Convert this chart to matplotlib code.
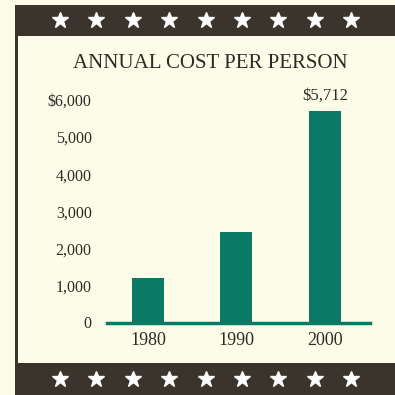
import matplotlib.pyplot as plt
from matplotlib.patches import Rectangle
import numpy as np

years = ["1980", "1990", "2000"]
cost = [1200, 2450, 5712]
y_ticks = [0, 1000, 2000, 3000, 4000, 5000, 6000]
y_labels = ["0", "1,000", "2,000", "3,000", "4,000", "5,000", "$6,000"]
title = "ANNUAL COST PER PERSON"

cream = "#fcfce8"
band = "#3b342c"
teal = "#0a7a66"
ink = "#2e2a26"
serif = ["Liberation Serif", "DejaVu Serif"]

fig = plt.figure(figsize=(3.95, 3.95), dpi=100, facecolor=cream)

# frame: dark star bands top and bottom, thin rule on the left (pixel coords)
deco = fig.add_axes([0, 0, 1, 1])
deco.set_xlim(0, 395)
deco.set_ylim(395, 0)
deco.axis("off")
deco.add_patch(Rectangle((15, 5), 380, 31, color=band, lw=0))
deco.add_patch(Rectangle((15, 363), 380, 32, color=band, lw=0))
deco.add_patch(Rectangle((15, 36), 2.5, 327, color=band, lw=0))
star_x = np.linspace(60, 351, 9)
for sy in (20, 379):
    deco.plot(star_x, [sy] * 9, ls="none", marker="*", ms=12, color="white", mec="white")

fig.text(0.532, 1 - 63 / 395, title, ha="center", va="center", fontsize=15, family=serif, color=ink)

ax = fig.add_axes([107 / 395, 1 - 322.5 / 395, 263 / 395, 222.5 / 395])
ax.set_facecolor("none")
x = np.arange(len(years))
ax.bar(x, cost, width=0.36, color=teal)
ax.axhline(0, color=teal, lw=2.5, clip_on=False)
ax.set_xlim(-0.463, 2.51)
ax.set_ylim(0, 6000)
ax.set_xticks(x, years)
ax.set_yticks(y_ticks, y_labels)
ax.tick_params(axis="y", length=0, pad=11, labelsize=11.5, labelcolor=ink)
ax.tick_params(axis="x", length=0, pad=7, labelsize=13, labelcolor=ink)
for lab in ax.get_xticklabels() + ax.get_yticklabels():
    lab.set_family(serif)
for s in ax.spines.values():
    s.set_visible(False)

ax.text(x[2], cost[2] + 180, "$5,712", ha="center", va="bottom", fontsize=12,
        family=serif, color=ink, clip_on=False)

fig.savefig("out.png", dpi=100, facecolor=cream)
